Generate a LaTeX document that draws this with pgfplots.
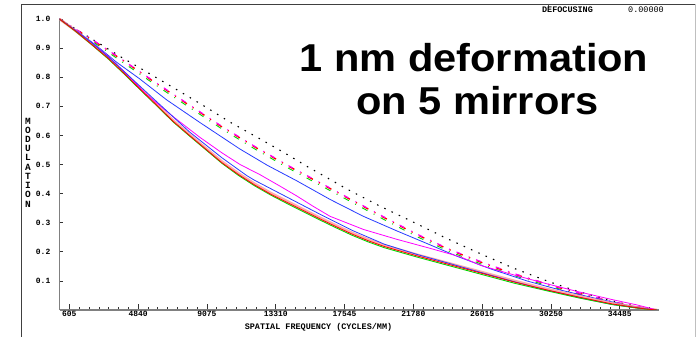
\documentclass[border=0pt]{standalone}
\usepackage{pgfplots}
\pgfplotsset{compat=1.18}
\usepackage{graphicx}
\usepackage{fontspec}
\setmainfont{Liberation Sans}
\newfontfamily\zfont{Liberation Mono}
\definecolor{zblue}{RGB}{40,60,255}
\definecolor{zgreen}{RGB}{0,215,0}
\definecolor{zmag}{RGB}{255,0,255}
\definecolor{zred}{RGB}{255,0,0}
\definecolor{zpink}{RGB}{255,150,150}
\begin{document}
\begin{tikzpicture}
\useasboundingbox (0,0) rectangle (696bp,337bp);
\fill[white] (0,0) rectangle (696bp,337bp);
\draw[line width=0.8bp, black!75] (21.7bp,0) -- (21.7bp,333bp) -- (696bp,333bp);
\draw[line width=0.6bp, black!25] (695.3bp,0) -- (695.3bp,333bp);
\draw[line width=0.6bp, black!70] (548.3bp,333bp) -- (548.3bp,329bp);
\begin{axis}[
  at={(59.5bp,27bp)}, anchor=south west,
  scale only axis, width=599.5bp, height=291bp,
  xmin=0, xmax=36900, ymin=0, ymax=1,
  axis lines*=left,
  axis line style={gray, line width=1.5bp},
  tick align=inside,
  major tick length=6bp, minor tick length=3bp,
  every tick/.style={black!80, line width=0.6bp},
  scaled x ticks=false, scaled y ticks=false,
  xtick={605,4840,9075,13310,17545,21780,26015,30250,34485},
  xticklabels={605,4840,9075,13310,17545,21780,26015,30250,34485},
  minor xtick={605,1210,...,36300},
  ytick={0.1,0.2,0.3,0.4,0.5,0.6,0.7,0.8,0.9,1.0},
  yticklabels={0.1,0.2,0.3,0.4,0.5,0.6,0.7,0.8,0.9,1.0},
  minor ytick={0.1,0.2,0.3,0.4,0.5,0.6,0.7,0.8,0.9,1.0},
  major y tick style={draw=none},
  xticklabel style={font=\zfont\bfseries\fontsize{8}{8}\selectfont, inner sep=1bp},
  yticklabel style={font=\zfont\bfseries\fontsize{8}{8}\selectfont, inner sep=0pt, xshift=-9bp},
]
% diffraction limit (black dotted)
\addplot[black, line width=1.1bp, dash pattern=on 1.5bp off 6.5bp] coordinates {
(0,1.0) (1016,0.965) (2413,0.917) (3767,0.870) (5245,0.822) (7584,0.745) (9018,0.697)
(10452,0.647) (12342,0.588) (13819,0.541) (15278,0.492) (16238,0.462) (17679,0.416)
(19685,0.358) (21741,0.303) (23791,0.247) (25841,0.195) (27934,0.144) (30088,0.098)
(31731,0.067) (33375,0.041) (34502,0.025) (35800,0.008) (36780,0)};
% green dash-dot
\addplot[zgreen, line width=0.9bp, dash pattern=on 6bp off 7bp on 1bp off 7bp] coordinates {
(0,1.0) (2000,0.924) (4000,0.847) (6000,0.770) (8000,0.696) (10000,0.622) (12000,0.554)
(14000,0.490) (16000,0.430) (18000,0.370) (20000,0.310) (22000,0.252) (24000,0.201)
(26000,0.157) (28000,0.118) (30000,0.084) (32000,0.053) (34000,0.026) (36000,0.006) (36780,0)};
% red dash-dot
\addplot[zred, line width=1.4bp, dash pattern=on 6bp off 7bp on 1bp off 7bp] coordinates {
(0,1.0) (2000,0.929) (4000,0.854) (6000,0.777) (8000,0.703) (10000,0.629) (12000,0.561)
(14000,0.497) (16000,0.437) (18000,0.377) (20000,0.317) (22000,0.259) (24000,0.207)
(26000,0.163) (28000,0.123) (30000,0.089) (32000,0.057) (34000,0.028) (36000,0.007) (36780,0)};
% magenta dash-dot
\addplot[zmag, line width=1.1bp, dash pattern=on 5bp off 8bp on 1bp off 7bp, dash phase=1bp] coordinates {
(0,1.0) (2000,0.930) (4000,0.855) (6000,0.779) (8000,0.705) (10000,0.631) (12000,0.563)
(14000,0.499) (16000,0.439) (18000,0.379) (20000,0.319) (22000,0.261) (24000,0.209)
(26000,0.165) (28000,0.125) (30000,0.090) (32000,0.058) (34000,0.029) (36000,0.007) (36780,0)};
% upper blue solid
\addplot[zblue, line width=0.8bp] coordinates {
(0,1.0) (1000,0.962) (2000,0.920) (2634,0.892) (3500,0.852) (4894,0.796) (6599,0.722)
(8649,0.644) (11111,0.553) (12800,0.497) (14601,0.444) (16651,0.380) (18700,0.322)
(20756,0.272) (22806,0.224) (24450,0.185) (26500,0.142) (28758,0.100) (30800,0.069)
(32858,0.042) (35000,0.016) (36780,0)};
% light pink thick (lowest group)
\addplot[zpink, line width=2.6bp, opacity=0.8] coordinates {
(0,1.0) (1000,0.959) (2000,0.914) (3000,0.867) (4000,0.815) (5000,0.760) (6000,0.706)
(7000,0.651) (8000,0.603) (9000,0.556) (10000,0.510) (11000,0.470) (12000,0.434)
(13000,0.402) (14000,0.374) (15000,0.346) (16000,0.318) (17000,0.291) (18000,0.265)
(19000,0.242) (20000,0.222) (22000,0.190) (24000,0.160) (26000,0.130) (28000,0.100)
(30000,0.072) (32000,0.047) (34000,0.023) (36000,0.005) (36780,0)};
% magenta solid
\addplot[zmag, line width=0.8bp] coordinates {
(0,1.0) (1000,0.960) (2000,0.918) (3000,0.872) (4000,0.818) (5368,0.740) (7005,0.664)
(8649,0.593) (10000,0.540) (11111,0.500) (12342,0.465) (13500,0.428) (14600,0.392)
(15623,0.356) (16651,0.322) (18700,0.277) (20756,0.243) (22806,0.212) (24653,0.183)
(26000,0.152) (28000,0.120) (30000,0.090) (32000,0.062) (34000,0.036) (35500,0.018) (36780,0)};
% lower blue solid
\addplot[zblue, line width=0.8bp] coordinates {
(0,1.0) (1000,0.960) (2000,0.918) (3000,0.870) (4000,0.818) (6000,0.715) (8000,0.612)
(10000,0.523) (11523,0.462) (12000,0.446) (14000,0.388) (16000,0.330) (17000,0.302)
(18000,0.274) (19000,0.250) (20000,0.226) (22000,0.191) (24000,0.160) (26000,0.128)
(28000,0.097) (30000,0.068) (32000,0.043) (34000,0.019) (36000,0.004) (36780,0)};
% green solid
\addplot[zgreen, line width=0.9bp] coordinates {
(0,1.0) (1000,0.957) (2000,0.911) (3000,0.863) (4000,0.810) (5000,0.755) (6000,0.701)
(7000,0.646) (8000,0.598) (9000,0.551) (10000,0.504) (11000,0.463) (12000,0.427)
(13000,0.395) (14000,0.366) (15000,0.338) (16000,0.310) (17000,0.283) (18000,0.257)
(19000,0.234) (20000,0.214) (22000,0.182) (24000,0.152) (26000,0.122) (28000,0.092)
(30000,0.066) (32000,0.041) (34000,0.019) (36000,0.003) (36780,0)};
% red solid
\addplot[zred, line width=0.8bp] coordinates {
(0,1.0) (1000,0.958) (2000,0.912) (3000,0.865) (4000,0.812) (5000,0.757) (6000,0.703)
(7000,0.648) (8000,0.600) (9000,0.553) (10000,0.506) (11000,0.466) (12000,0.430)
(13000,0.398) (14000,0.370) (15000,0.342) (16000,0.314) (17000,0.287) (18000,0.261)
(19000,0.238) (20000,0.218) (22000,0.186) (24000,0.156) (26000,0.126) (28000,0.096)
(30000,0.069) (32000,0.044) (34000,0.021) (36000,0.004) (36780,0)};
\end{axis}
\node[anchor=base, font=\bfseries\fontsize{39}{43}\selectfont, inner sep=0pt] at (474bp,265.3bp) {\scalebox{1.07}[1]{1 nm deformation}};
\node[anchor=base, font=\bfseries\fontsize{39}{43}\selectfont, inner sep=0pt] at (477.5bp,222bp) {\scalebox{1.07}[1]{on 5 mirrors}};
\node[font=\zfont\bfseries\fontsize{8.5}{9}\selectfont, inner sep=0pt] at (567.5bp,327bp) {DEFOCUSING};
\node[font=\zfont\fontsize{8.5}{9}\selectfont, inner sep=0pt] at (646bp,327bp) {0.00000};
\node[font=\zfont\bfseries\fontsize{8.5}{9}\selectfont, inner sep=0pt] at (318.5bp,9.7bp) {SPATIAL FREQUENCY (CYCLES/MM)};
\node[align=center, font=\zfont\bfseries\fontsize{9.5}{9.26}\selectfont, inner sep=0pt] at (28bp,174.6bp) {M\\O\\D\\U\\L\\A\\T\\I\\O\\N};
\end{tikzpicture}
\end{document}
